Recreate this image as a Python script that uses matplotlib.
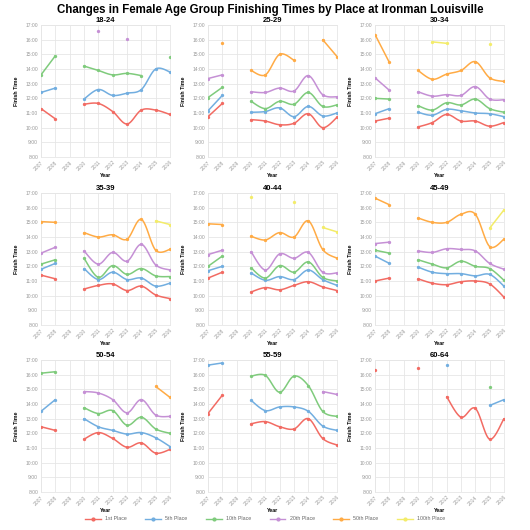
import matplotlib
matplotlib.use("Agg")
import matplotlib.pyplot as plt
import numpy as np

# years on the x axis (categorical); None = no result that year
years = ["2007", "2008", "2009", "2010", "2011", "2012", "2013", "2014", "2015", "2016"]
places = ["1st Place", "5th Place", "10th Place", "20th Place", "50th Place", "100th Place"]
colors = ["#f26b63", "#72aee0", "#7fcb7c", "#c590d5", "#ffab45", "#f3ec6a"]
groups = ["18-24", "25-29", "30-34", "35-39", "40-44", "45-49", "50-54", "55-59", "60-64"]

N = None
# finish times in hours, one list per place, one dict entry per age group
times_18_24 = [
    [11.3, 10.6, N, 11.6, 11.65, 11.1, 10.25, 11.2, 11.2, 10.9],
    [12.4, 12.7, N, 11.95, 12.6, 12.2, 12.35, 12.6, 14.0, 13.8],
    [13.6, 14.9, N, 14.2, 13.9, 13.6, 13.7, 13.55, N, 14.8],
    [N, N, N, N, 16.6, N, 16.05, N, N, N],
    [N] * 10,
    [N] * 10,
]
times_25_29 = [
    [10.75, 11.65, N, 10.55, 10.45, 10.2, 10.3, 10.95, 10.0, 10.7],
    [11.15, 12.2, N, 11.05, 11.1, 11.35, 10.75, 11.45, 10.8, 11.0],
    [12.05, 12.75, N, 11.8, 11.3, 11.8, 11.6, 12.4, 11.45, 11.55],
    [13.35, 13.6, N, 12.45, 12.4, 12.7, 12.5, 13.55, 12.25, 12.1],
    [N, 15.75, N, 13.9, 13.6, 15.0, 14.6, N, 16.0, 14.85],
    [N] * 10,
]
times_30_34 = [
    [10.45, 10.65, N, 10.05, 10.35, 10.9, 10.45, 10.45, 10.1, 10.35],
    [10.95, 11.3, N, 11.05, 10.85, 11.25, 11.15, 11.0, 10.95, 10.75],
    [12.0, 11.95, N, 11.5, 11.2, 11.7, 11.55, 11.95, 11.3, 11.05],
    [13.4, 12.55, N, 12.45, 12.15, 12.25, 12.2, 12.8, 11.95, 11.9],
    [16.35, 14.45, N, 13.9, 13.3, 13.65, 13.9, 14.5, 13.4, 13.15],
    [N, N, N, N, 15.85, 15.75, N, N, 15.7, N],
]
times_35_39 = [
    [11.4, 11.15, N, 10.45, 10.7, 10.8, 10.35, 10.65, 10.05, 9.8],
    [11.8, 12.2, N, 11.85, 11.1, 11.6, 11.1, 11.2, 10.65, 10.85],
    [12.15, 12.45, N, 12.55, 11.25, 12.05, 11.45, 11.85, 11.35, 11.3],
    [12.9, 13.3, N, 13.05, 12.15, 12.95, 12.35, 13.5, 12.1, 11.75],
    [15.05, 15.0, N, 14.3, 14.0, 14.15, 13.85, 15.2, 13.1, 13.15],
    [N, N, N, N, N, N, N, N, 15.1, 14.85],
]
times_40_44 = [
    [11.2, 11.6, N, 10.25, 10.55, 10.4, 10.7, 10.95, 10.6, 10.35],
    [11.7, 12.0, N, 11.55, 11.05, 11.3, 11.1, 11.75, 11.1, 10.7],
    [12.0, 12.7, N, 11.9, 11.2, 12.05, 11.6, 12.3, 11.25, 11.0],
    [12.8, 13.1, N, 13.0, 11.75, 12.85, 12.55, 12.95, 11.6, 11.55],
    [14.9, 14.85, N, 14.05, 13.8, 14.3, 14.0, 15.1, 13.15, 12.55],
    [N, N, N, 16.75, N, N, 16.4, N, 14.65, 14.35],
]
times_45_49 = [
    [11.0, 11.2, N, 11.15, 10.85, 10.75, 10.95, 11.0, 10.8, 9.9],
    [12.7, 12.2, N, 11.95, 11.6, 11.5, 11.5, 11.35, 11.45, 10.65],
    [13.1, 12.9, N, 12.45, 12.15, 11.9, 12.35, 12.0, 11.85, 11.05],
    [13.55, 13.65, N, 13.05, 12.95, 13.2, 13.15, 13.05, 12.2, 11.8],
    [16.65, 16.2, N, 15.3, 15.0, 15.0, 15.55, 15.55, 13.35, 13.85],
    [N, N, N, N, N, N, N, N, 14.6, 15.85],
]
times_50_54 = [
    [12.45, 12.2, N, 11.6, 12.05, 11.65, 11.05, 11.35, 10.65, 10.9],
    [13.5, 14.3, N, 13.0, 12.45, 12.2, 11.95, 12.05, 11.7, 11.1],
    [16.1, 16.2, N, 13.75, 13.35, 13.55, 12.55, 13.1, 12.3, 12.0],
    [N, N, N, 14.85, 14.75, 14.3, 13.4, 14.3, 13.25, 13.15],
    [N, N, N, N, N, N, N, N, 15.2, 14.45],
    [N] * 10,
]
times_55_59 = [
    [13.35, 14.6, N, 12.65, 12.8, 12.45, 12.3, 13.0, 11.65, 11.2],
    [16.65, 16.8, N, 14.25, 13.55, 13.8, 13.8, 13.5, 12.5, 12.2],
    [N, N, N, 15.9, 15.95, 14.8, 15.9, 15.25, 13.5, 13.15],
    [N, N, N, N, N, N, N, N, 14.85, 14.65],
    [N] * 10,
    [N] * 10,
]
times_60_64 = [
    [16.3, N, N, 16.45, N, 14.5, 13.1, 13.7, 11.6, 13.0],
    [N, N, N, N, N, 16.65, N, N, 13.9, 14.3],
    [N, N, N, N, N, N, N, N, 15.15, N],
    [N] * 10,
    [N] * 10,
    [N] * 10,
]
all_times = [times_18_24, times_25_29, times_30_34, times_35_39, times_40_44,
             times_45_49, times_50_54, times_55_59, times_60_64]


def catmull_rom(xs, ys, steps=20):
    # smooth curve through the points (like d3 cardinal curve)
    if len(xs) < 3:
        return xs, ys
    px = [xs[0]] + list(xs) + [xs[-1]]
    py = [ys[0]] + list(ys) + [ys[-1]]
    ox, oy = [], []
    t = np.linspace(0, 1, steps)
    for i in range(1, len(px) - 2):
        for arr, out in ((px, ox), (py, oy)):
            p0, p1, p2, p3 = arr[i - 1], arr[i], arr[i + 1], arr[i + 2]
            out.extend(0.5 * (2 * p1 + (-p0 + p2) * t + (2 * p0 - 5 * p1 + 4 * p2 - p3) * t ** 2
                              + (-p0 + 3 * p1 - 3 * p2 + p3) * t ** 3))
    return ox, oy


def segments(vals):
    segs, cur = [], []
    for i, v in enumerate(vals):
        if v is None:
            if cur:
                segs.append(cur)
            cur = []
        else:
            cur.append((i, v))
    if cur:
        segs.append(cur)
    return segs


fig = plt.figure(figsize=(5.3, 5.3), dpi=100)
plt.rcParams['font.family'] = ['Liberation Sans', 'DejaVu Sans']

lefts = [41, 208, 375]
tops = [25, 193, 360]
W, H = 129, 132

for k, grp in enumerate(groups):
    r, c = divmod(k, 3)
    ax = fig.add_axes([lefts[c] / 530, 1 - (tops[r] + H) / 530, W / 530, H / 530])
    for p, series in enumerate(all_times[k]):
        for seg in segments(series):
            xs = [s[0] for s in seg]
            ys = [s[1] for s in seg]
            sx, sy = catmull_rom(xs, ys)
            ax.plot(sx, sy, color=colors[p], lw=1.1, solid_capstyle='round', zorder=3)
            ax.plot(xs, ys, 'o', color=colors[p], ms=2.4, mew=0, zorder=4)
    ax.set_xlim(0, len(years) - 1)
    ax.set_ylim(8, 17)
    ax.set_xticks(range(len(years)))
    ax.set_xticklabels(years, rotation=45, ha='right', rotation_mode='anchor')
    yt = list(range(8, 18))
    ax.set_yticks(yt)
    ax.set_yticklabels([f"{h}:00" for h in yt])
    ax.tick_params(labelsize=3.6, colors='#999999', length=0, pad=2)
    ax.grid(True, color='#e6e6e6', lw=0.6)
    ax.set_axisbelow(True)
    for sp in ax.spines.values():
        sp.set_color('#e6e6e6')
        sp.set_linewidth(0.6)
    ax.set_title(grp, fontsize=5.5, fontweight='bold', pad=2.5)
    ax.set_xlabel("Year", fontsize=3.8, fontweight='bold', labelpad=1)
    ax.set_ylabel("Finish Time", fontsize=3.8, fontweight='bold', labelpad=5)

fig.text(0.51, 0.982, "Changes in Female Age Group Finishing Times by Place at Ironman Louisville",
         ha='center', va='center', fontsize=8.3, fontweight='bold')

handles = [plt.Line2D([], [], color=col, lw=1.0, marker='o', ms=2.0) for col in colors]
fig.legend(handles, places, loc='center', bbox_to_anchor=(0.5, 1 - 519 / 530), ncol=6,
           frameon=False, fontsize=3.8, handlelength=3, columnspacing=3.5,
           labelcolor='#666666')

fig.savefig("out.png", dpi=100)
